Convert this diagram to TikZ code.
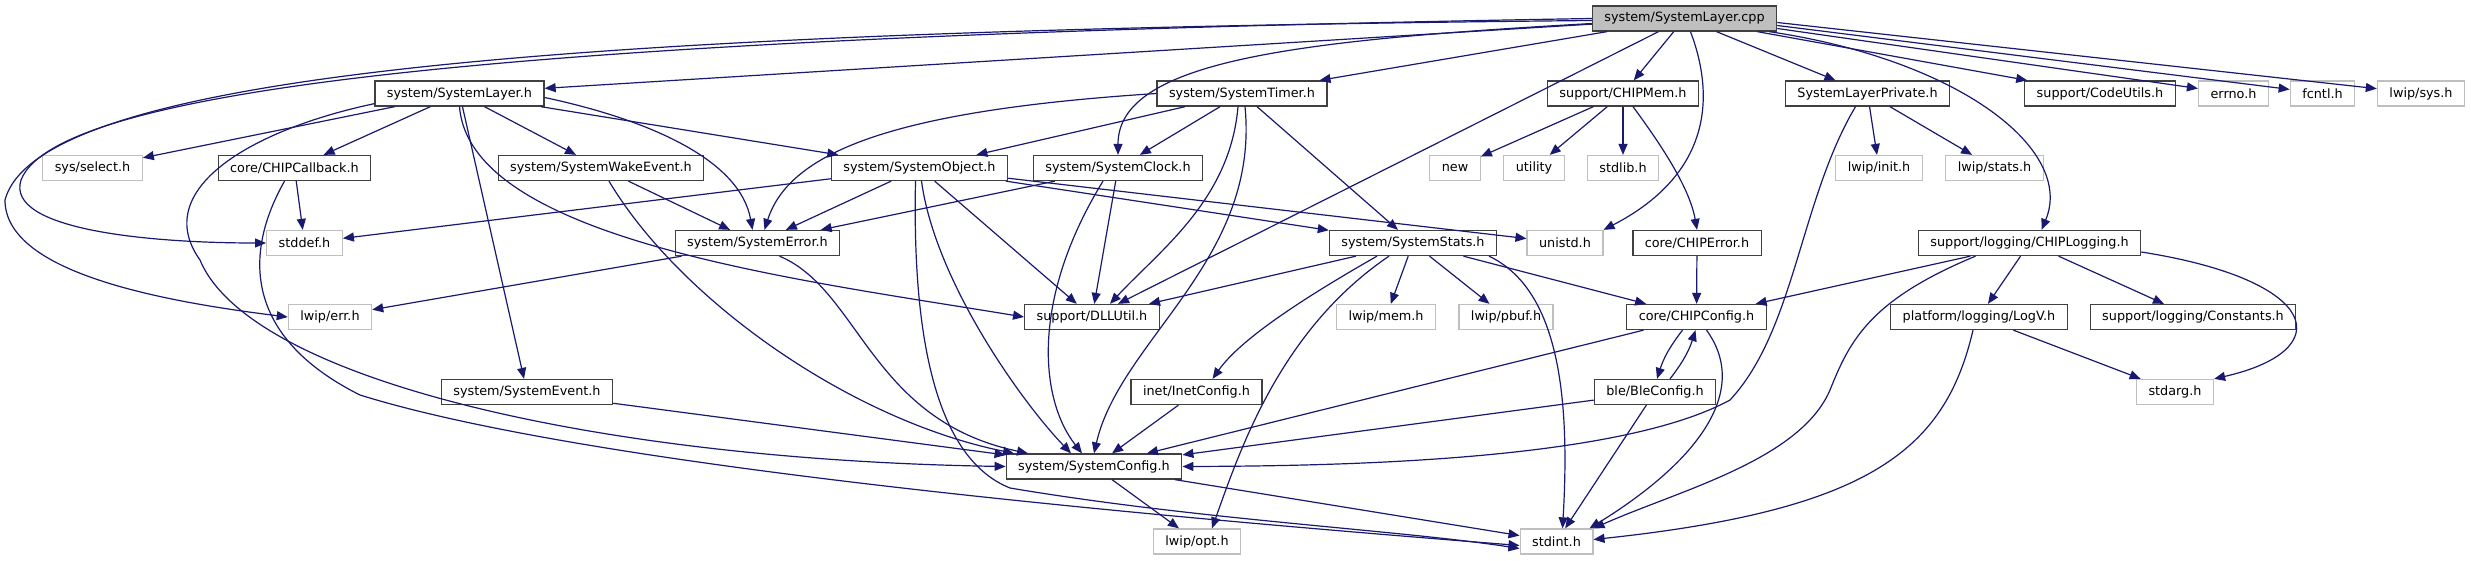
\documentclass[tikz,border=0pt]{standalone}
\usepackage{fontspec}
\setmainfont{DejaVu Sans}
\usetikzlibrary{arrows.meta}
\definecolor{edgeblue}{HTML}{191970}
\definecolor{extgray}{HTML}{BFBFBF}
\definecolor{boxgray}{HTML}{404040}

\tikzset{
hdr/.style={draw=boxgray, line width=1.3pt, fill=white, font=\fontsize{12.8}{14}\selectfont,
  inner xsep=12pt, inner ysep=0pt, minimum height=25pt},
ext/.style={hdr, draw=extgray},
rootbox/.style={hdr, fill=extgray},
dep/.style={draw=edgeblue, line width=1.2pt, -{Triangle[length=11pt,width=9pt]}}
}

\begin{document}
\begin{tikzpicture}[x=1pt,y=-1pt]

\path[use as bounding box, fill=white] (0,0) rectangle (2471,560);

% rank 0
\node[rootbox] (root) at (1684.5,18.5) {system/SystemLayer.cpp};

% rank 1
\node[hdr] (syslayer) at (459.5,93.5) {system/SystemLayer.h};
\node[hdr] (timer) at (1242,93.5) {system/SystemTimer.h};
\node[hdr] (chipmem) at (1623,93.5) {support/CHIPMem.h};
\node[hdr] (layerpriv) at (1867.5,93.5) {SystemLayerPrivate.h};
\node[hdr] (codeutils) at (2100,93.5) {support/CodeUtils.h};
\node[ext] (errno) at (2233.5,93.5) {errno.h};
\node[ext] (fcntl) at (2322.5,93.5) {fcntl.h};
\node[ext] (lwipsys) at (2421,93.5) {lwip/sys.h};

% rank 2
\node[ext] (select) at (92.5,168) {sys/select.h};
\node[hdr] (callback) at (294.5,168) {core/CHIPCallback.h};
\node[hdr] (wake) at (601,168) {system/SystemWakeEvent.h};
\node[hdr] (object) at (919.5,168) {system/SystemObject.h};
\node[hdr] (clock) at (1118,168) {system/SystemClock.h};
\node[ext] (new) at (1455,168) {new};
\node[ext] (utility) at (1534,168) {utility};
\node[ext] (stdlib) at (1623,168) {stdlib.h};
\node[ext] (lwipinit) at (1879,168) {lwip/init.h};
\node[ext] (lwipstats) at (1994.5,168) {lwip/stats.h};

% rank 3
\node[ext] (stddef) at (304.5,243) {stddef.h};
\node[hdr] (error) at (757.5,243) {system/SystemError.h};
\node[hdr] (stats) at (1413,243) {system/SystemStats.h};
\node[ext] (unistd) at (1565,243) {unistd.h};
\node[hdr] (chiperror) at (1697,243) {core/CHIPError.h};
\node[hdr] (logging) at (2029.5,243) {support/logging/CHIPLogging.h};

% rank 4
\node[ext] (lwiperr) at (330,317) {lwip/err.h};
\node[hdr] (dllutil) at (1092,317) {support/DLLUtil.h};
\node[ext] (lwipmem) at (1386,317) {lwip/mem.h};
\node[ext] (pbuf) at (1506,317) {lwip/pbuf.h};
\node[hdr] (chipconfig) at (1696.5,317) {core/CHIPConfig.h};
\node[hdr] (logv) at (1979,317) {platform/logging/LogV.h};
\node[hdr] (constants) at (2193,317) {support/logging/Constants.h};

% rank 5
\node[hdr] (event) at (527,392) {system/SystemEvent.h};
\node[hdr] (inet) at (1196.5,392) {inet/InetConfig.h};
\node[hdr] (ble) at (1655,392) {ble/BleConfig.h};
\node[ext] (stdarg) at (2175,392) {stdarg.h};

% rank 6 and 7
\node[hdr] (sysconfig) at (1094,466.5) {system/SystemConfig.h};
\node[ext] (opt) at (1197,541.5) {lwip/opt.h};
\node[ext] (stdint) at (1556.5,541.5) {stdint.h};

% straight includes
\foreach \a/\b in {root/syslayer, root/timer, root/dllutil, root/chipmem, root/layerpriv,
  root/codeutils,
  syslayer/select, syslayer/callback, syslayer/wake, syslayer/object, syslayer/event,
  callback/stddef, wake/error, object/stddef, object/error, object/dllutil, object/stats,
  object/unistd, event/sysconfig, error/lwiperr, clock/error, clock/dllutil,
  timer/object, timer/clock, timer/stats, stats/dllutil, stats/lwipmem, stats/pbuf,
  stats/chipconfig, chipmem/new, chipmem/utility, chipmem/stdlib, chiperror/chipconfig,
  chipconfig/sysconfig, ble/sysconfig, ble/stdint, inet/sysconfig, sysconfig/opt,
  sysconfig/stdint, layerpriv/lwipinit, layerpriv/lwipstats, logging/chipconfig,
  logging/logv, logging/constants, logv/stdarg}
  \draw[dep] (\a) -- (\b);

% from the right side of the root
\foreach \b/\dy in {errno/-10, fcntl/-7, lwipsys/-4}
  \draw[dep] ([yshift=\dy pt]root.east) -- (\b);

% curved includes
\draw[dep] ([yshift=-2pt]root.west) .. controls (600,30) and (40,70) .. (5,200)
  .. controls (5,270) and (150,300) .. (lwiperr.west);
\draw[dep] (root.west) .. controls (600,35) and (60,80) .. (21,180)
  .. controls (5,230) and (150,243) .. (stddef.west);
\draw[dep] ([yshift=-5pt]root.west) .. controls (1300,40) and (1118,60) .. (clock.north);
\draw[dep] ([xshift=6pt]root.south) .. controls (1720,110) and (1700,180) .. (unistd.north east);
\draw[dep] ([xshift=-8pt]root.south east) .. controls (1960,60) and (2075,150) .. ([xshift=12pt]logging.north);

\draw[dep] ([yshift=-4pt]syslayer.east) .. controls (650,120) and (740,160) .. ([xshift=-5pt]error.north);
\draw[dep] (syslayer.south) .. controls (470,240) and (800,280) .. (dllutil.west);
\draw[dep] ([yshift=3pt]syslayer.south west) .. controls (250,130) and (150,190) .. (200,260)
  .. controls (250,380) and (600,460) .. (sysconfig.west);
\draw[dep] ([xshift=-10pt]callback.south) .. controls (240,260) and (250,340) .. (360,395)
  .. controls (600,470) and (1200,520) .. ([yshift=-4pt]stdint.west);
\draw[dep] ([xshift=8pt]wake.south) .. controls (680,300) and (850,420) .. ([xshift=-80pt]sysconfig.north);
\draw[dep] ([xshift=22pt]error.south) .. controls (860,290) and (870,420) .. ([xshift=-66pt]sysconfig.north);
\draw[dep] ([xshift=2pt]object.south) .. controls (935,280) and (1020,400) .. ([xshift=-23pt]sysconfig.north);
\draw[dep] ([xshift=-4pt]object.south) .. controls (912,350) and (940,460) .. (1010,488)
  .. controls (1200,520) and (1400,530) .. ([yshift=-7pt]stdint.west);
\draw[dep] ([xshift=-15pt]clock.south) .. controls (1030,300) and (1040,400) .. ([xshift=-12pt]sysconfig.north);

\draw[dep] (timer.west) .. controls (900,110) and (790,150) .. ([xshift=7pt]error.north);
\draw[dep] ([xshift=-4pt]timer.south) .. controls (1230,200) and (1160,250) .. ([xshift=18pt]dllutil.north);
\draw[dep] ([xshift=3pt]timer.south) .. controls (1260,260) and (1120,340) .. (sysconfig.north);

\draw[dep] ([xshift=-36pt]stats.south) .. controls (1300,300) and (1240,340) .. ([xshift=16pt]inet.north);
\draw[dep] ([xshift=-24pt]stats.south) .. controls (1280,330) and (1240,450) .. ([xshift=15pt]opt.north);
\draw[dep] ([xshift=76pt]stats.south) .. controls (1560,290) and (1570,400) .. ([xshift=6pt]stdint.north);

\draw[dep] ([xshift=10pt]chipmem.south) .. controls (1665,150) and (1690,190) .. (chiperror.north);
\draw[dep] ([xshift=-14pt]chipconfig.south) to[bend right=10] ([xshift=2pt]ble.north);
\draw[dep] ([xshift=15pt]ble.north) to[bend right=10] ([xshift=-1pt]chipconfig.south);
\draw[dep] ([xshift=10pt]chipconfig.south) .. controls (1750,390) and (1700,460) .. ([xshift=-4pt]stdint.north east);

\draw[dep] ([xshift=-12pt]layerpriv.south) .. controls (1800,200) and (1795,330) .. (1730,400)
  .. controls (1620,460) and (1350,466) .. (sysconfig.east);
\draw[dep] ([yshift=-9pt]logging.east) .. controls (2320,280) and (2340,350) .. (stdarg.north east);
\draw[dep] ([xshift=-54pt]logging.south) .. controls (1870,300) and (1850,340) .. (1830,390)
  .. controls (1800,460) and (1680,490) .. (stdint.north east);
\draw[dep] ([xshift=-6pt]logv.south) .. controls (1945,450) and (1870,510) .. ([yshift=2pt]stdint.east);

\end{tikzpicture}
\end{document}
